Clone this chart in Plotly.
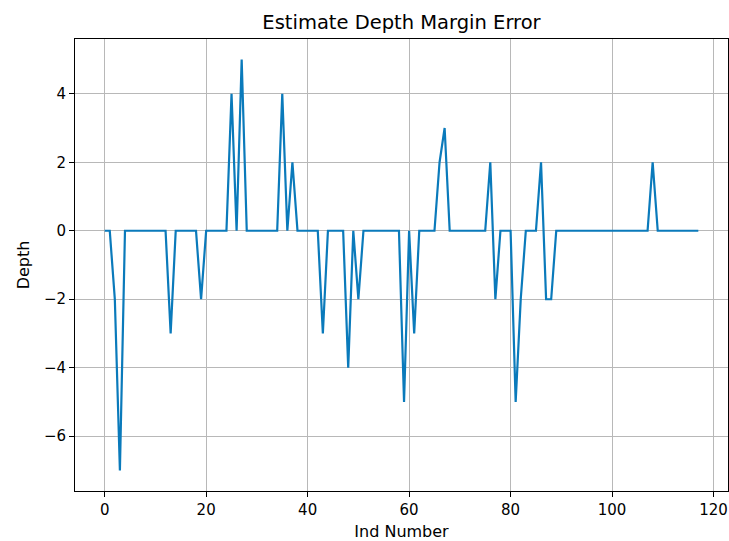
import plotly.graph_objects as go

ind_number = list(range(118))
depth = [
    0, 0, -2, -7, 0, 0, 0, 0, 0, 0,      # 0-9
    0, 0, 0, -3, 0, 0, 0, 0, 0, -2,      # 10-19
    0, 0, 0, 0, 0, 4, 0, 5, 0, 0,        # 20-29
    0, 0, 0, 0, 0, 4, 0, 2, 0, 0,        # 30-39
    0, 0, 0, -3, 0, 0, 0, 0, -4, 0,      # 40-49
    -2, 0, 0, 0, 0, 0, 0, 0, 0, -5,      # 50-59
    0, -3, 0, 0, 0, 0, 2, 3, 0, 0,       # 60-69
    0, 0, 0, 0, 0, 0, 2, -2, 0, 0,       # 70-79
    0, -5, -2, 0, 0, 0, 2, -2, -2, 0,    # 80-89
    0, 0, 0, 0, 0, 0, 0, 0, 0, 0,        # 90-99
    0, 0, 0, 0, 0, 0, 0, 0, 2, 0,        # 100-109
    0, 0, 0, 0, 0, 0, 0, 0,              # 110-117
]
x_ticks = [0, 20, 40, 60, 80, 100, 120]
y_ticks = [-6, -4, -2, 0, 2, 4]

title_text = "Estimate Depth Margin Error"
x_label = "Ind Number"
y_label = "Depth"

fig = go.Figure()
fig.add_trace(go.Scatter(
    x=ind_number, y=depth, mode="lines",
    line=dict(color="#0a7abb", width=2.2),
    showlegend=False,
))

font_family = "DejaVu Sans"
axis_common = dict(
    showline=True, mirror=True, linecolor="black", linewidth=1,
    ticks="outside", ticklen=5, tickwidth=1, tickcolor="black",
    showgrid=True, gridcolor="#b8b8b8", gridwidth=1,
    zeroline=False, automargin=False,
    tickfont=dict(family=font_family, size=15, color="black"),
)

fig.update_layout(
    width=729, height=541,
    margin=dict(l=75, r=1, t=39, b=50, autoexpand=False),
    paper_bgcolor="white", plot_bgcolor="white",
    font=dict(family=font_family, color="black"),
    title=dict(
        text=title_text, x=0.5, xref="paper",
        y=1 - 22 / 541, yref="container", yanchor="middle",
        font=dict(family=font_family, size=19.5, color="black"),
    ),
    xaxis=dict(
        range=[-5.85, 122.85], tickvals=x_ticks, ticktext=[str(v) for v in x_ticks],
        title=dict(text=x_label, font=dict(family=font_family, size=16), standoff=9),
        **axis_common,
    ),
    yaxis=dict(
        range=[-7.6, 5.6], tickvals=y_ticks, ticktext=["\u2212" + str(-v) if v < 0 else str(v) for v in y_ticks],
        title=dict(text=y_label, font=dict(family=font_family, size=16), standoff=10),
        **axis_common,
    ),
)

fig.write_html(
    "out.html",
    config={"displayModeBar": False},
    post_script="document.body.style.margin='0';document.body.style.overflow='hidden';",
)
